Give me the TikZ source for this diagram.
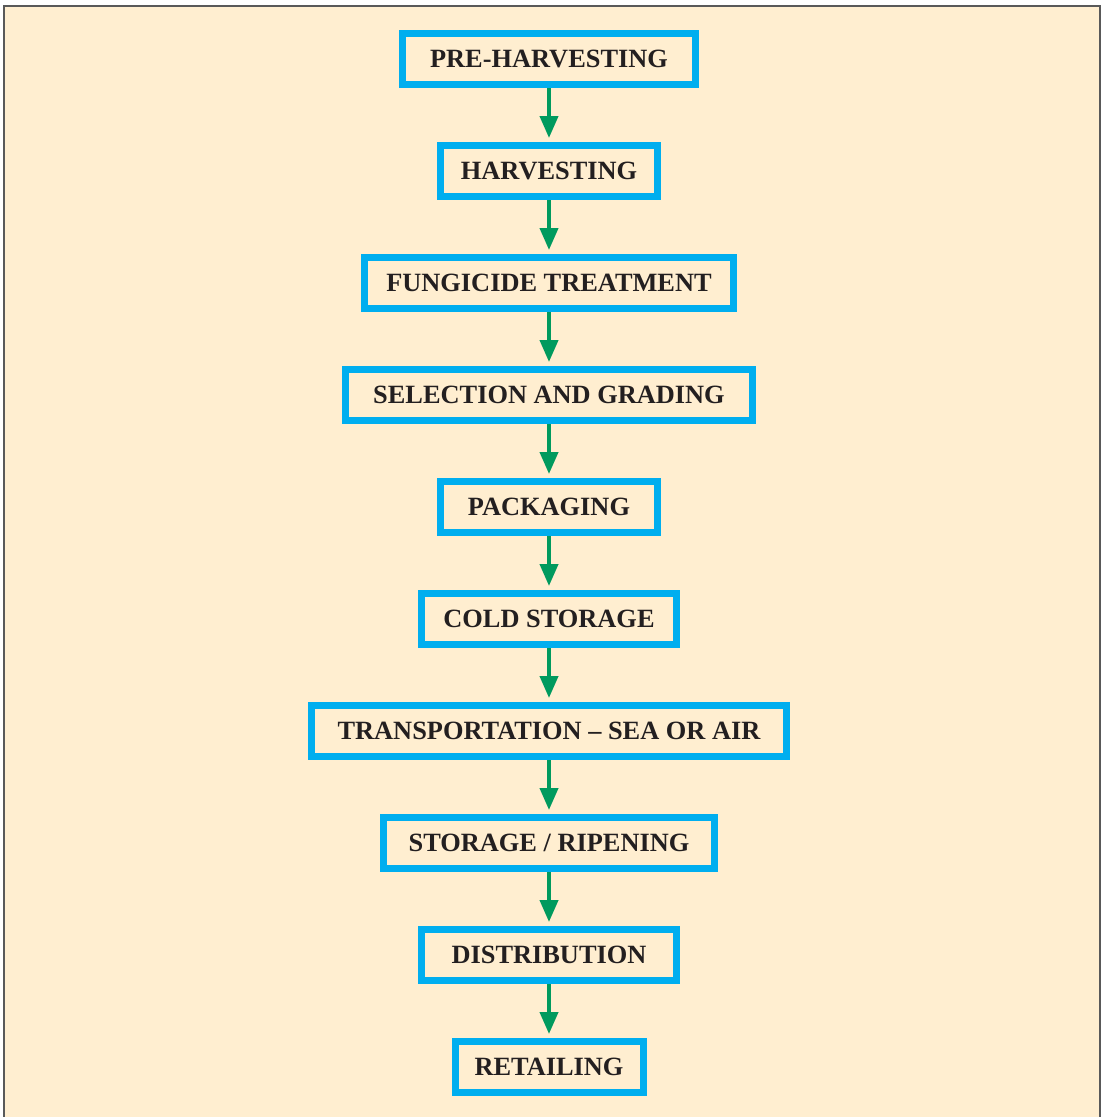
\documentclass[tikz,border=0pt]{standalone}
\usepackage{fontspec}
\setmainfont{Liberation Serif}
\usetikzlibrary{positioning}
\usetikzlibrary{arrows.meta}
\definecolor{cream}{HTML}{FFEED0}
\definecolor{boxblue}{HTML}{00AEEF}
\definecolor{flowgreen}{HTML}{009A5E}
\definecolor{inkdark}{HTML}{231F20}
\tikzstyle{stage} = [rectangle,draw=boxblue,line width=0.14cm,fill=cream,
minimum height=1.02cm, text=inkdark, font=\fontsize{15}{18}\selectfont\bfseries,
node distance=1.08cm]
\tikzstyle{flow} = [draw=flowgreen,line width=0.08cm,shorten >=0.08cm]
\tikzset{>={Triangle[length=0.44cm,width=0.36cm]}}
\newcommand{\link}[2]{ %
  % Arrow from stage #1 down to stage #2.
  \path (#1) edge [->,flow] (#2) ;%
}
\begin{document}
\begin{tikzpicture}
  \useasboundingbox (0,0) rectangle (22.04,-22.34);
  \fill[cream] (0.06,-0.11) rectangle (22.0,-22.34);
  \draw[gray!70!black, line width=0.04cm] (0.07,-22.34) -- (0.07,-0.11) -- (22.0,-0.11) -- (22.0,-22.34);

  \node[stage, minimum width=5.86cm] (pre) at (10.98,-1.18) {PRE-HARVESTING};
  \node[stage, minimum width=4.34cm, below=of pre] (harv) {HARVESTING};
  \node[stage, minimum width=7.38cm, below=of harv] (fung) {FUNGICIDE TREATMENT};
  \node[stage, minimum width=8.14cm, below=of fung] (sel) {SELECTION AND GRADING};
  \node[stage, minimum width=4.34cm, below=of sel] (pack) {PACKAGING};
  \node[stage, minimum width=5.10cm, below=of pack] (cold) {COLD STORAGE};
  \node[stage, minimum width=9.50cm, below=of cold] (trans) {TRANSPORTATION -- SEA OR AIR};
  \node[stage, minimum width=6.62cm, below=of trans] (ripe) {STORAGE / RIPENING};
  \node[stage, minimum width=5.10cm, below=of ripe] (dist) {DISTRIBUTION};
  \node[stage, minimum width=3.76cm, below=of dist] (ret) {RETAILING};

  \link{pre}{harv}
  \link{harv}{fung}
  \link{fung}{sel}
  \link{sel}{pack}
  \link{pack}{cold}
  \link{cold}{trans}
  \link{trans}{ripe}
  \link{ripe}{dist}
  \link{dist}{ret}
\end{tikzpicture}
\end{document}
